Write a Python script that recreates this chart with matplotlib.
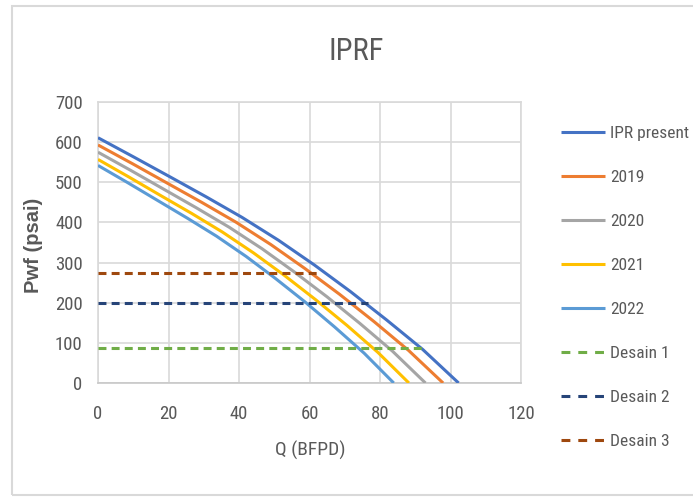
import matplotlib
matplotlib.use("Agg")
import os
import matplotlib.pyplot as plt
from matplotlib import font_manager as fm
from matplotlib.font_manager import FontProperties
from matplotlib.patches import Rectangle
from matplotlib.lines import Line2D

# ---------------- data ----------------
q_ipr = [0, 10.2, 20.5, 30.7, 40.9, 51.2, 61.4, 71.6, 81.8, 92.1, 102.3]
p_ipr = [611, 562.7, 513.2, 463.7, 412.4, 355.6, 293.9, 227.9, 157.6, 83.7, 0]

q_2019 = [0, 9.8, 19.6, 29.4, 39.2, 49.0, 58.7, 68.5, 78.3, 88.1, 97.9]
p_2019 = [593, 546.2, 498.1, 450.1, 400.3, 345.1, 285.2, 221.2, 153.0, 81.2, 0]

q_2020 = [0, 9.3, 18.6, 27.9, 37.2, 46.5, 55.7, 65.0, 74.3, 83.6, 92.9]
p_2020 = [575, 529.6, 483.0, 436.4, 388.1, 334.7, 276.6, 214.5, 148.4, 78.8, 0]

q_2021 = [0, 8.8, 17.6, 26.5, 35.3, 44.1, 52.9, 61.7, 70.6, 79.4, 88.2]
p_2021 = [557, 513.0, 467.9, 422.8, 376.0, 324.2, 267.9, 207.8, 143.7, 76.3, 0]

q_2022 = [0, 8.4, 16.8, 25.2, 33.6, 42.0, 50.3, 58.7, 67.1, 75.5, 83.9]
p_2022 = [542, 499.2, 455.3, 411.4, 365.9, 315.4, 260.7, 202.2, 139.8, 74.3, 0]

q_desain1 = [0, 91.8]
p_desain1 = [88, 88]
q_desain2 = [0, 76.5]
p_desain2 = [200, 200]
q_desain3 = [0, 62]
p_desain3 = [275, 275]

x_ticks = [0, 20, 40, 60, 80, 100, 120]
y_ticks = [0, 100, 200, 300, 400, 500, 600, 700]

solid_labels = ["IPR present", "2019", "2020", "2021", "2022"]
dash_labels = ["Desain 1", "Desain 2", "Desain 3"]

# ---------------- fonts ----------------
def pick_narrow():
    prefs = ["LiberationSansNarrow-Regular", "RobotoCondensed-Regular", "NotoSans-Condensed.",
             "NotoSansCondensed-Regular", "NotoSans-CondensedRegular", "OpenSans-CondensedRegular",
             "OpenSansCondensed-Regular", "DejaVuSansCondensed."]
    files = [f.fname for f in fm.fontManager.ttflist]
    for p in prefs:
        for fn in files:
            if p in os.path.basename(fn):
                return fn
    for fn in files:
        b = os.path.basename(fn)
        if ("Condensed" in b or "Narrow" in b) and not any(k in b for k in
                ("Bold", "Italic", "Oblique", "Light", "Thin", "Black", "Medium", "Semi", "Extra")):
            return fn
    return None

narrow = pick_narrow()

def fp(size):
    if narrow:
        return FontProperties(fname=narrow, size=size)
    return FontProperties(family="Open Sans", size=size * 0.8)

TXT = "#595959"
GRID = "#D9D9D9"

fig = plt.figure(figsize=(6.93, 4.97), dpi=100)
ax = fig.add_axes([98 / 693, 1 - 383 / 497, 423 / 693, 281 / 497])

series = [
    (q_ipr, p_ipr, "#4472C4"),
    (q_2019, p_2019, "#ED7D31"),
    (q_2020, p_2020, "#A5A5A5"),
    (q_2021, p_2021, "#FFC000"),
    (q_2022, p_2022, "#5B9BD5"),
]
handles = []
for (q, p, c), lab in zip(series, solid_labels):
    ax.plot(q, p, color=c, lw=2.2, solid_capstyle="butt", solid_joinstyle="round", zorder=3)
    handles.append(Line2D([], [], color=c, lw=2.2, solid_capstyle="butt"))

dashed = [
    (q_desain1, p_desain1, "#70AD47"),
    (q_desain2, p_desain2, "#264478"),
    (q_desain3, p_desain3, "#9E480E"),
]
for (q, p, c), lab in zip(dashed, dash_labels):
    ax.plot(q, p, color=c, lw=2.2, linestyle=(0, (2.6, 1.7)), dash_capstyle="butt", zorder=4)
    handles.append(Line2D([], [], color=c, lw=2.2, linestyle=(0, (2.9, 2.6)), dash_capstyle="butt"))

ax.set_xlim(0, 120)
ax.set_ylim(0, 700)
ax.set_xticks(x_ticks)
ax.set_yticks(y_ticks)
ax.grid(True, color=GRID, lw=1.2, zorder=0)
ax.set_axisbelow(True)
for s in ax.spines.values():
    s.set_color(GRID)
    s.set_linewidth(1.2)
ax.spines["bottom"].set_color("#C8C8C8")
ax.tick_params(length=0, colors=TXT)
ax.tick_params(axis="x", pad=16)
ax.tick_params(axis="y", pad=11)
for lab in ax.get_xticklabels() + ax.get_yticklabels():
    lab.set_fontproperties(fp(13.5))
    lab.set_color(TXT)

ax.set_xlabel("Q (BFPD)", fontproperties=fp(14), color=TXT)
ax.xaxis.set_label_coords(0.501, -0.205)
ax.set_ylabel("Pwf (psai)", family="Liberation Sans", fontsize=14.5, fontweight="bold", color=TXT)
ax.yaxis.set_label_coords(-0.13, 0.49)

fig.text(356 / 693, 1 - 51 / 497, "IPRF", fontproperties=fp(22), color=TXT,
         ha="center", va="center")

leg = fig.legend(handles, solid_labels + dash_labels, loc="upper left",
                 bbox_to_anchor=(561 / 693, 1 - 126 / 497), frameon=False,
                 prop=fp(12.5), labelcolor=TXT, handlelength=2.55, handletextpad=0.3,
                 labelspacing=1.66, borderpad=0, borderaxespad=0)

fig.patches.append(Rectangle((12 / 693, 2 / 497), 1.2, 1 - 8 / 497, transform=fig.transFigure,
                             fill=False, edgecolor="#D9D9D9", lw=1.5, zorder=0))

fig.savefig("out.png", dpi=100)
